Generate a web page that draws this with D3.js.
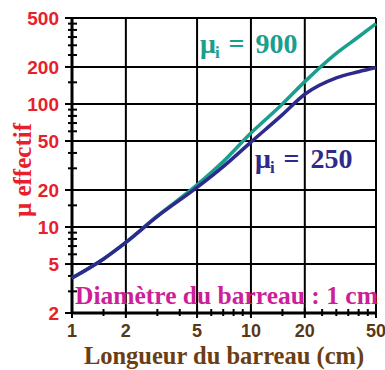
<!DOCTYPE html>
<html><head><meta charset="utf-8">
<script src="https://cdn.jsdelivr.net/npm/d3@7"></script>
<style>body{margin:0;background:#fff}</style>
</head><body>
<script>
const lengths = [1, 1.5, 2, 3, 5, 7, 10, 15, 20, 30, 40, 50];
const mu250 = [3.85, 5.5, 7.5, 12.2, 21, 31, 49, 82, 120, 163, 183, 198];
const mu900 = [3.85, 5.5, 7.5, 12.3, 22, 34, 58, 100, 152, 258, 352, 450];
const xTicks = [1, 2, 5, 10, 20, 50];
const yTicks = [2, 5, 10, 20, 50, 100, 200, 500];
const xMinor = [1.5, 3, 4, 6, 7, 8, 9, 15, 25, 30, 35, 40, 45];
const yMinor = [3, 4, 6, 7, 8, 9, 15, 30, 40, 60, 70, 80, 90, 150, 250, 300, 350, 400, 450];

const W = 385, H = 370;
const svg = d3.select("body").append("svg").attr("width", W).attr("height", H);
const x = d3.scaleLog().domain([1, 50]).range([72, 376]);
const y = d3.scaleLog().domain([2, 500]).range([313, 18]);

const serif = "Liberation Serif, Times New Roman, serif";
const sans = "Liberation Sans, Arial, sans-serif";

// grid
svg.append("g").selectAll("line").data(xTicks).join("line")
  .attr("x1", d => x(d)).attr("x2", d => x(d)).attr("y1", y(500)).attr("y2", y(2))
  .attr("stroke", "#000").attr("stroke-width", 2);
svg.append("g").selectAll("line").data(yTicks).join("line")
  .attr("x1", x(1)).attr("x2", x(50)).attr("y1", d => y(d)).attr("y2", d => y(d))
  .attr("stroke", "#000").attr("stroke-width", 2);
// axes thicker
svg.append("line").attr("x1", x(1)).attr("x2", x(1)).attr("y1", y(500)).attr("y2", y(2)+1).attr("stroke", "#000").attr("stroke-width", 3);
svg.append("line").attr("x1", x(1)-1).attr("x2", x(50)+1).attr("y1", y(2)).attr("y2", y(2)).attr("stroke", "#000").attr("stroke-width", 3);

// ticks
svg.append("g").selectAll("line").data(yTicks).join("line")
  .attr("x1", x(1) - 7).attr("x2", x(1) + 6).attr("y1", d => y(d)).attr("y2", d => y(d))
  .attr("stroke", "#000").attr("stroke-width", 2);
svg.append("g").selectAll("line").data(yMinor).join("line")
  .attr("x1", x(1) - 4).attr("x2", x(1) + 5).attr("y1", d => y(d)).attr("y2", d => y(d))
  .attr("stroke", "#000").attr("stroke-width", 2);
svg.append("g").selectAll("line").data(xTicks).join("line")
  .attr("x1", d => x(d)).attr("x2", d => x(d)).attr("y1", y(2) - 5).attr("y2", y(2) + 5)
  .attr("stroke", "#000").attr("stroke-width", 2);
svg.append("g").selectAll("line").data(xMinor).join("line")
  .attr("x1", d => x(d)).attr("x2", d => x(d)).attr("y1", y(2) - 4).attr("y2", y(2) + 3)
  .attr("stroke", "#000").attr("stroke-width", 2);

// tick labels
svg.append("g").selectAll("text").data(yTicks).join("text")
  .attr("x", 59).attr("y", d => y(d) + 7).attr("text-anchor", "end")
  .attr("font-family", sans).attr("font-weight", "bold")
  .attr("font-size", 19).attr("fill", "#e8202a").text(d => d);
svg.append("g").selectAll("text").data(xTicks).join("text")
  .attr("x", d => x(d)).attr("y", 337).attr("text-anchor", "middle")
  .attr("font-family", sans).attr("font-weight", "bold")
  .attr("font-size", 18).attr("fill", "#5a3816").text(d => d);

// titles
svg.append("text").attr("x", 224).attr("y", 364).attr("text-anchor", "middle")
  .attr("font-family", serif).attr("font-weight", "bold")
  .attr("font-size", 24.5).attr("fill", "#6b3d12").text("Longueur du barreau (cm)");
svg.append("text").attr("transform", "translate(31,170) rotate(-90)").attr("text-anchor", "middle")
  .attr("font-family", serif).attr("font-weight", "bold")
  .attr("font-size", 25).attr("fill", "#e8202a").text("μ effectif");

// curves
const line = d3.line().curve(d3.curveMonotoneX);
const pts = vals => lengths.map((l, i) => [x(l), y(vals[i])]);
svg.append("path").attr("d", line(pts(mu900))).attr("fill", "none").attr("stroke", "#1a9e8e").attr("stroke-width", 3.5);
svg.append("path").attr("d", line(pts(mu250))).attr("fill", "none").attr("stroke", "#2e2a8c").attr("stroke-width", 3.5);

// labels (single text each, with tspans)
function muLabel(xm, yp, val, color) {
  const t = svg.append("text").attr("x", xm).attr("y", yp)
    .attr("font-family", serif).attr("font-weight", "bold").attr("fill", color).attr("font-size", 28);
  t.append("tspan").text("μ");
  t.append("tspan").attr("font-size", 17).attr("dx", -1).attr("dy", 5).text("i");
  t.append("tspan").attr("dy", -5).attr("dx", 9).text("=");
  t.append("tspan").attr("dx", 11).text(val);
}
muLabel(200, 53, "900", "#1a9e8e");
muLabel(255, 168, "250", "#2e2a8c");

svg.append("text").attr("x", 75).attr("y", 304)
  .attr("font-family", serif).attr("font-weight", "bold")
  .attr("font-size", 25.5).attr("fill", "#cc1f99").text("Diamètre du barreau : 1 cm");
</script>
</body></html>
